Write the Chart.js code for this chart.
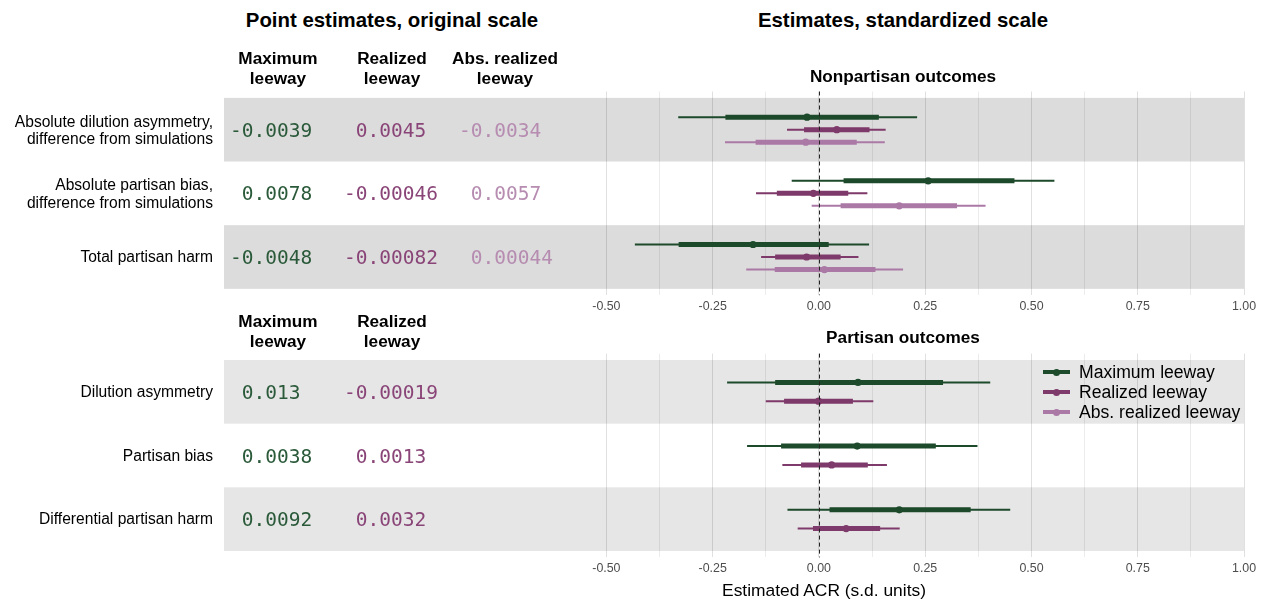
<!DOCTYPE html>
<html><head><meta charset="utf-8">
<script src="https://cdn.jsdelivr.net/npm/chart.js@4"></script>
<style>
html,body{margin:0;padding:0;background:#fff;width:1265px;height:601px;overflow:hidden;font-family:'Liberation Sans',Arial,sans-serif;}
.t{position:absolute;white-space:pre;color:#000;}
.c{transform:translate(-50%,-50%);text-align:center;}
.r{transform:translate(-100%,-50%);text-align:right;}
.l{transform:translate(0,-50%);}
canvas{position:absolute;left:0;}
.mono{font-family:'DejaVu Sans Mono',monospace;font-size:19.5px;}
.hdr{font-weight:bold;font-size:17.2px;line-height:19.5px;}
.lbl{font-size:15.6px;line-height:17.5px;}
</style></head><body>
<canvas id="topChart" width="1265" height="240" style="top:80px"></canvas>
<canvas id="botChart" width="1265" height="240" style="top:342px"></canvas>
<div id="overlay"></div>
<script>
// ---------- data ----------
const seriesNames = ['Maximum leeway', 'Realized leeway', 'Abs. realized leeway'];
const seriesColors = ['#1c4a2a', '#7e3a6a', '#ab79a6'];
const textColors = ['#2b5a3a', '#8a4578', '#b68cb1'];

const topRows = ['Absolute dilution asymmetry,\ndifference from simulations', 'Absolute partisan bias,\ndifference from simulations', 'Total partisan harm'];
const botRows = ['Dilution asymmetry', 'Partisan bias', 'Differential partisan harm'];

// point estimates on original scale (table)
const topOrigMax  = ['-0.0039', '0.0078', '-0.0048'];
const topOrigReal = ['0.0045', '-0.00046', '-0.00082'];
const topOrigAbs  = ['-0.0034', '0.0057', '0.00044'];
const botOrigMax  = ['0.013', '0.0038', '0.0092'];
const botOrigReal = ['-0.00019', '0.0013', '0.0032'];

// standardized estimates: nonpartisan outcomes
const topMaxEst   = [-0.028, 0.257, -0.155];
const topMaxLo    = [-0.331, -0.064, -0.433];
const topMaxHi    = [0.231, 0.554, 0.118];
const topMaxLoIn  = [-0.220, 0.058, -0.330];
const topMaxHiIn  = [0.141, 0.460, 0.023];

const topRealEst  = [0.042, -0.013, -0.029];
const topRealLo   = [-0.075, -0.148, -0.136];
const topRealHi   = [0.157, 0.114, 0.093];
const topRealLoIn = [-0.035, -0.099, -0.103];
const topRealHiIn = [0.119, 0.069, 0.051];

const topAbsEst   = [-0.031, 0.189, 0.013];
const topAbsLo    = [-0.221, -0.017, -0.171];
const topAbsHi    = [0.155, 0.392, 0.198];
const topAbsLoIn  = [-0.149, 0.051, -0.104];
const topAbsHiIn  = [0.089, 0.325, 0.133];

// standardized estimates: partisan outcomes
const botMaxEst   = [0.092, 0.090, 0.189];
const botMaxLo    = [-0.216, -0.169, -0.074];
const botMaxHi    = [0.403, 0.373, 0.450];
const botMaxLoIn  = [-0.103, -0.089, 0.025];
const botMaxHiIn  = [0.292, 0.275, 0.357];

const botRealEst  = [-0.001, 0.030, 0.064];
const botRealLo   = [-0.125, -0.086, -0.050];
const botRealHi   = [0.128, 0.160, 0.190];
const botRealLoIn = [-0.082, -0.042, -0.014];
const botRealHiIn = [0.080, 0.115, 0.144];

const xTickLabels = [-0.5, -0.25, 0, 0.25, 0.5, 0.75, 1.0];
const xMinorGrid  = [-0.375, -0.125, 0.125, 0.375, 0.625, 0.875];

// ---------- drawing ----------
const TABLE_LEFT = 224;
const DODGE = 0.59;
const allTicks = xTickLabels.concat(xMinorGrid).sort((a, b) => a - b);
const isMajor = v => xTickLabels.some(t => Math.abs(t - v) < 1e-9);

function segs(lo, hi, off) {
  const d = [];
  lo.forEach((v, i) => { d.push({x: v, y: i + off}, {x: hi[i], y: i + off}, {x: null, y: null}); });
  return d;
}
function makeDatasets(series) {
  const n = series.length, ds = [];
  series.forEach((s, k) => {
    const off = -DODGE / 2 + DODGE / (2 * n) + k * DODGE / n;
    const col = seriesColors[k];
    const base = {type: 'line', showLine: true, pointRadius: 0, borderColor: col, fill: false, spanGaps: false, tension: 0, borderCapStyle: 'butt'};
    ds.push(Object.assign({}, base, {data: segs(s.lo, s.hi, off), borderWidth: 2}));
    ds.push(Object.assign({}, base, {data: segs(s.loIn, s.hiIn, off), borderWidth: 5}));
    ds.push({type: 'scatter', showLine: false, data: s.est.map((v, i) => ({x: v, y: i + off})), pointRadius: 3.6, pointBackgroundColor: col, pointBorderWidth: 0});
  });
  return ds;
}

const bandPlugin = {
  id: 'bands',
  beforeDraw(chart, args, opts) {
    const {ctx, chartArea, scales: {y}} = chart;
    ctx.save();
    ctx.fillStyle = opts.color;
    opts.rows.forEach((_, r) => {
      if (r % 2 === 0) {
        const y0 = y.getPixelForValue(r - 0.5), y1 = y.getPixelForValue(r + 0.5);
        ctx.fillRect(TABLE_LEFT, Math.min(y0, y1), chartArea.right - TABLE_LEFT, Math.abs(y1 - y0));
      }
    });
    ctx.restore();
  }
};
const zeroLine = {
  id: 'zeroLine',
  afterDatasetsDraw(chart) {
    const {ctx, chartArea, scales: {x}} = chart;
    const px = Math.round(x.getPixelForValue(0)) + 0.5;
    ctx.save();
    ctx.strokeStyle = '#222'; ctx.lineWidth = 1; ctx.setLineDash([4, 3]);
    ctx.beginPath(); ctx.moveTo(px, chartArea.top); ctx.lineTo(px, chartArea.bottom); ctx.stroke();
    ctx.restore();
  }
};

function makeChart(id, rows, series, bandColor, padTop, padBottom) {
  return new Chart(document.getElementById(id), {
    type: 'line',
    data: {datasets: makeDatasets(series)},
    options: {
      responsive: false, animation: false, events: [],
      layout: {padding: {left: 600, right: 21, top: padTop, bottom: padBottom}},
      plugins: {legend: {display: false}, tooltip: {enabled: false}, bands: {rows: rows, color: bandColor}},
      scales: {
        x: {
          type: 'linear', min: -0.515, max: 1.0,
          afterBuildTicks: s => { s.ticks = allTicks.map(v => ({value: v})); },
          afterFit: s => { s.height = 24; },
          grid: {drawTicks: false, lineWidth: 1, color: c => (c.tick && isMajor(c.tick.value)) ? 'rgba(0,0,0,0.12)' : 'rgba(0,0,0,0.075)'},
          border: {display: false},
          ticks: {padding: 4, color: '#4d4d4d', autoSkip: false, maxRotation: 0,
                  font: {family: "'Liberation Sans', Arial, sans-serif", size: 12.4},
                  callback: v => isMajor(v) ? v.toFixed(2) : ''}
        },
        y: {type: 'linear', display: false, min: -0.6, max: 2.6, reverse: true}
      }
    },
    plugins: [bandPlugin, zeroLine]
  });
}

const topChart = makeChart('topChart', topRows, [
  {est: topMaxEst, lo: topMaxLo, hi: topMaxHi, loIn: topMaxLoIn, hiIn: topMaxHiIn},
  {est: topRealEst, lo: topRealLo, hi: topRealHi, loIn: topRealLoIn, hiIn: topRealHiIn},
  {est: topAbsEst, lo: topAbsLo, hi: topAbsHi, loIn: topAbsLoIn, hiIn: topAbsHiIn}
], '#dcdcdc', 11.5, 0.8);

const botChart = makeChart('botChart', botRows, [
  {est: botMaxEst, lo: botMaxLo, hi: botMaxHi, loIn: botMaxLoIn, hiIn: botMaxHiIn},
  {est: botRealEst, lo: botRealLo, hi: botRealHi, loIn: botRealLoIn, hiIn: botRealHiIn}
], '#e6e6e6', 11.6, 0.6);

// ---------- text overlay ----------
const overlay = document.getElementById('overlay');
function txt(s, x, y, cls, style) {
  const d = document.createElement('div');
  d.className = 't ' + cls;
  d.textContent = s;
  d.style.left = x + 'px'; d.style.top = y + 'px';
  if (style) Object.assign(d.style, style);
  overlay.appendChild(d);
  return d;
}
const fmt = s => (s.charAt(0) === '-' ? s : ' ' + s);
const colX = [230, 344, 459];
const hdrX = [278, 392, 505];

txt('Point estimates, original scale', 392, 20, 'c', {fontWeight: 'bold', fontSize: '20.4px'});
txt('Estimates, standardized scale', 903, 20, 'c', {fontWeight: 'bold', fontSize: '20.4px'});
txt('Nonpartisan outcomes', 903, 76, 'c', {fontWeight: 'bold', fontSize: '17.2px'});
txt('Partisan outcomes', 903, 337, 'c', {fontWeight: 'bold', fontSize: '17.2px'});
txt('Estimated ACR (s.d. units)', 824, 590, 'c', {fontSize: '17.4px'});

const hdrLines = ['Maximum\nleeway', 'Realized\nleeway', 'Abs. realized\nleeway'];
hdrLines.forEach((h, i) => txt(h, hdrX[i], 68, 'c hdr'));
hdrLines.slice(0, 2).forEach((h, i) => txt(h, hdrX[i], 331, 'c hdr'));

function tableRows(chart, top, rows, cols) {
  const y = chart.scales.y;
  rows.forEach((lab, r) => {
    const cy = top + y.getPixelForValue(r);
    txt(lab, 213, cy, 'r lbl');
    cols.forEach((col, k) => txt(fmt(col[r]), colX[k], cy, 'l mono', {color: textColors[k]}));
  });
}
tableRows(topChart, 80, topRows, [topOrigMax, topOrigReal, topOrigAbs]);
tableRows(botChart, 342, botRows, [botOrigMax, botOrigReal]);

// legend
seriesNames.forEach((name, k) => {
  const cy = 372 + k * 20;
  const line = document.createElement('div');
  line.style.cssText = `position:absolute;left:1043px;top:${cy - 2}px;width:27px;height:4px;background:${seriesColors[k]};`;
  overlay.appendChild(line);
  const dot = document.createElement('div');
  dot.style.cssText = `position:absolute;left:${1056.5 - 3.5}px;top:${cy - 3.5}px;width:7px;height:7px;border-radius:50%;background:${seriesColors[k]};`;
  overlay.appendChild(dot);
  txt(name, 1079, cy, 'l', {fontSize: '17.6px'});
});
</script>
</body></html>
